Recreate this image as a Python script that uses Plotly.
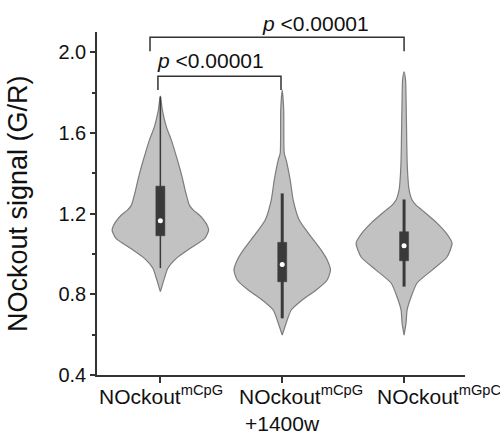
import plotly.graph_objects as go
import numpy as np

categories = ["NOckout<sup>mCpG</sup>", "NOckout<sup>mCpG</sup>", "NOckout<sup>mGpC</sup>"]
category_second_line = ["", "+1400w", ""]

# violin density profiles (value, relative half-width)
v0_y = [1.782, 1.713, 1.630, 1.564, 1.500, 1.432, 1.366, 1.302, 1.242, 1.217, 1.193, 1.168,
        1.143, 1.118, 1.077, 1.028, 0.978, 0.929, 0.879, 0.813]
v0_d = [0, 2, 6, 11, 15, 19, 22.5, 25.5, 29, 33, 39, 43.5, 46.7, 48.3, 44.5, 30, 16, 7.5, 4, 0]

v1_y = [1.812, 1.713, 1.500, 1.465, 1.366, 1.267, 1.168, 1.104, 1.019, 0.970, 0.920, 0.871,
        0.821, 0.772, 0.722, 0.673, 0.598]
v1_d = [0, 1.5, 2, 4, 8, 11, 17, 26, 39, 45, 48.3, 45, 34, 20, 9, 5, 0]

v2_y = [1.902, 1.861, 1.762, 1.614, 1.465, 1.366, 1.317, 1.267, 1.242, 1.217, 1.153, 1.104,
        1.054, 0.985, 0.920, 0.856, 0.787, 0.722, 0.658, 0.598]
v2_d = [0, 1.5, 2, 2.5, 3, 4, 5, 8, 12, 18, 33, 42, 48, 43, 28, 13, 7, 3, 2, 0]

whisker_lo = [0.93, 0.681, 0.838]
q1 = [1.090, 0.862, 0.966]
median = [1.164, 0.948, 1.041]
q3 = [1.336, 1.0575, 1.110]
whisker_hi = [1.78, 1.30, 1.27]

p_text = "<i>p</i> &lt;0.00001"
y_title = "NOckout signal (G/R)"

profiles = [(v0_y, v0_d), (v1_y, v1_d), (v2_y, v2_d)]
max_half = 0.396
box_half = 0.037
whisker_widths = [1.5, 3, 3]

fig = go.Figure()
for i, (ys, ds) in enumerate(profiles):
    ys = np.array(ys)
    ds = np.array(ds) / 48.3 * max_half
    xs = np.concatenate([i - ds, (i + ds)[::-1]])
    yy = np.concatenate([ys, ys[::-1]])
    fig.add_trace(go.Scatter(x=xs, y=yy, mode="lines", fill="toself",
                             fillcolor="#c2c2c2", line=dict(color="#7c7c7c", width=1.2,
                                                            shape="spline", smoothing=0.6),
                             hoverinfo="skip", showlegend=False))
for i in range(3):
    fig.add_trace(go.Scatter(x=[i, i], y=[whisker_lo[i], whisker_hi[i]], mode="lines",
                             line=dict(color="#3a3a3a", width=whisker_widths[i]),
                             showlegend=False, hoverinfo="skip"))
    fig.add_trace(go.Scatter(x=[i - box_half, i + box_half, i + box_half, i - box_half, i - box_half],
                             y=[q1[i], q1[i], q3[i], q3[i], q1[i]], mode="lines", fill="toself",
                             fillcolor="#3a3a3a", line=dict(color="#3a3a3a", width=0.5),
                             showlegend=False, hoverinfo="skip"))
fig.add_trace(go.Scatter(x=[0, 1, 2], y=median, mode="markers",
                         marker=dict(color="white", size=5, line=dict(width=0)),
                         showlegend=False, hoverinfo="skip"))

# significance brackets
brackets = [([-0.02, -0.02, 0.99, 0.99], [1.812, 1.881, 1.881, 1.812]),
            ([-0.085, -0.085, 2.0, 2.0], [2.005, 2.074, 2.074, 2.005])]
for bx, by in brackets:
    fig.add_trace(go.Scatter(x=bx, y=by, mode="lines", line=dict(color="#333333", width=1.5),
                             showlegend=False, hoverinfo="skip", cliponaxis=False))

font_family = "Liberation Sans, Arial, sans-serif"
txt_font = dict(size=21, color="#111111", family=font_family)
fig.add_annotation(x=0.415, y=1.96, xref="x", yref="y", text=p_text, showarrow=False,
                   font=txt_font, yanchor="middle")
fig.add_annotation(x=1.277, y=1.026, xref="x", yref="paper", text=p_text, showarrow=False,
                   font=txt_font, yanchor="middle")
fig.add_annotation(x=-0.216, y=0.5, xref="paper", yref="paper", text=y_title,
                   textangle=-90, showarrow=False, xanchor="center", yanchor="middle",
                   font=dict(size=27, color="#111111", family=font_family))

# category labels (placed as in the reference, left-aligned blocks)
label_left = [-0.001, 0.381, 0.7554]
second_left = [None, 0.3976, None]
for i, lab in enumerate(categories):
    fig.add_annotation(x=label_left[i], y=-0.058, xref="paper", yref="paper", text=lab,
                       showarrow=False, xanchor="left", yanchor="middle", font=txt_font)
    if category_second_line[i]:
        fig.add_annotation(x=second_left[i], y=-0.142, xref="paper", yref="paper",
                           text=category_second_line[i], showarrow=False, xanchor="left",
                           yanchor="middle", font=txt_font)

fig.update_layout(
    width=500, height=433,
    margin=dict(l=97, r=35, t=32, b=58, autoexpand=False),
    paper_bgcolor="white", plot_bgcolor="white",
    font=dict(family=font_family, color="#111111"),
    xaxis=dict(range=[-0.52, 2.5], tickvals=[0, 1, 2], showticklabels=False, automargin=False,
               showline=True, linecolor="#333333", linewidth=1.5, ticks="outside",
               ticklen=6, tickwidth=1.5, tickcolor="#333333", showgrid=False, zeroline=False),
    yaxis=dict(range=[0.4, 2.1], tickvals=[0.4, 0.8, 1.2, 1.6, 2.0], tickformat=".1f",
               automargin=False,
               showline=True, linecolor="#333333", linewidth=1.5, ticks="outside",
               ticklen=5, tickwidth=1.5, tickcolor="#333333", showgrid=False, zeroline=False,
               tickfont=dict(size=20, family=font_family, color="#111111"),
               minor=dict(tickvals=[0.6, 1.0, 1.4, 1.8], ticks="outside", ticklen=3,
                          tickwidth=1.5, tickcolor="#333333", showgrid=False)),
)

fig.write_html("out.html")
